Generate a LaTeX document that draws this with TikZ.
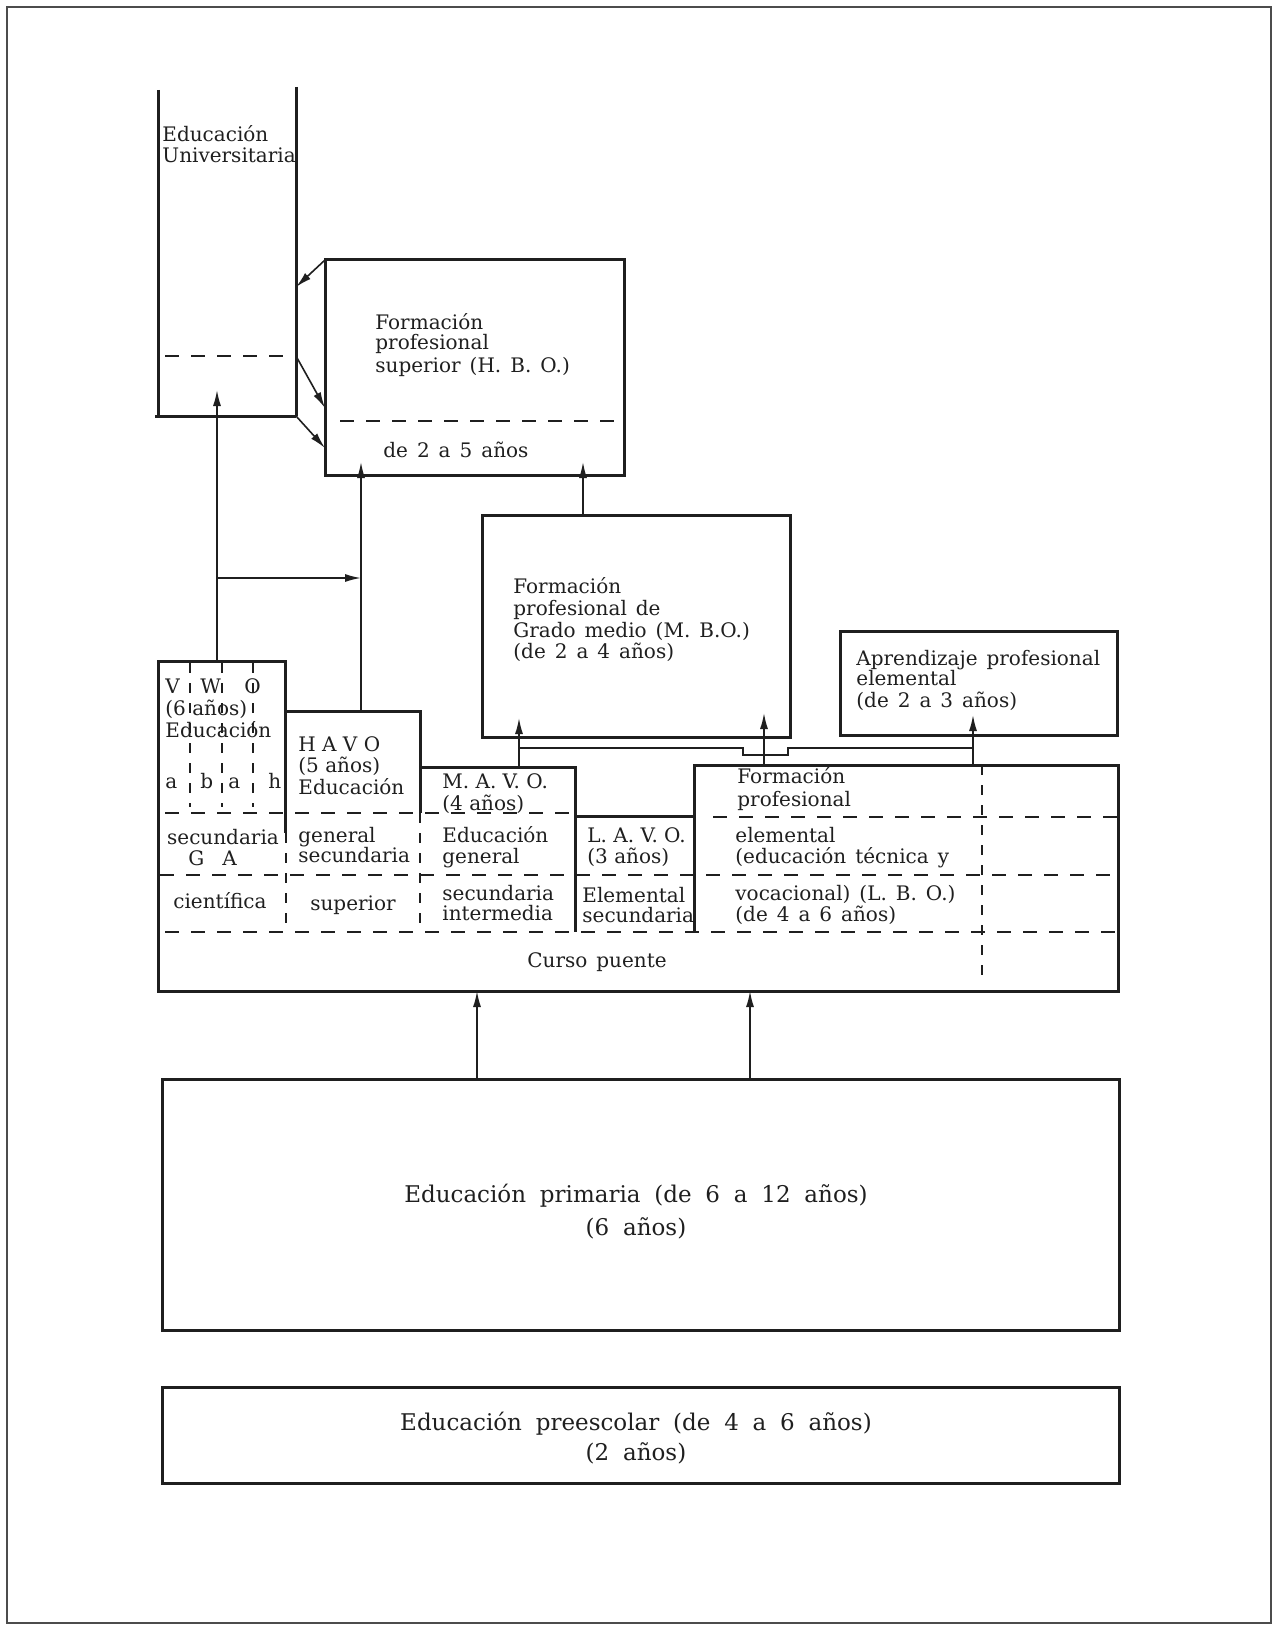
\documentclass[tikz,border=0pt]{standalone}
\usepackage{fontspec}
\setmainfont{DejaVu Serif}
\usetikzlibrary{arrows.meta}
\definecolor{ink}{gray}{0.12}
\definecolor{framec}{gray}{0.3}
\newcommand\myboxfont{\fontsize{10}{12}\selectfont\spaceskip=0.45em\relax}
\newcommand\mytightfont{\fontsize{10}{12}\selectfont}
\newcommand\mybigfont{\fontsize{11.5}{14}\selectfont\spaceskip=0.6em\relax}
\begin{document}
\begin{tikzpicture}[x=0.5pt,y=-0.5pt,
  txt/.style={anchor=base west,inner sep=0pt,text=ink,font=\myboxfont},
  txtc/.style={txt,anchor=base},
  tight/.style={txt,font=\mytightfont},
  big/.style={anchor=base,inner sep=0pt,text=ink,font=\mybigfont},
  box/.style={draw=ink,line width=1.5pt,line join=miter},
  conn/.style={draw=ink,line width=0.8pt},
  arr/.style={conn,-{Latex[length=8pt,width=4pt]}},
  dsh/.style={draw=ink,line width=0.7pt,dash pattern=on 7pt off 6pt},
  vdsh/.style={draw=ink,line width=0.7pt,dash pattern=on 5pt off 5pt}
]
\useasboundingbox (0,0) rectangle (1276,1626);
\draw[framec,line width=1.2pt] (7,7) rectangle (1271,1623);

% ---------- Educacion Universitaria ----------
\draw[box] (158,90) -- (158,416);
\draw[box] (296,87) -- (296,416);
\draw[box] (155,416) -- (296,416);
\draw[dsh] (165,356) -- (296,356);
\node[txt] (univ1) at (162,142) {Educación};
\node[txt] (univ2) at (162,163) {Universitaria};

% ---------- HBO ----------
\draw[box] (325,260) rectangle (624,475);
\draw[dsh] (340,421) -- (618,421);
\node[txt] (hbo1) at (375,329) {Formación};
\node[txt] (hbo2) at (375,350) {profesional};
\node[txt] (hbo3) at (375,372) {superior (H. B. O.)};
\node[txt] (hbo4) at (383,457) {de 2 a 5 años};

% ---------- MBO ----------
\draw[box] (482,515) rectangle (790,737);
\node[txt] (mbo1) at (513,593) {Formación};
\node[txt] (mbo2) at (513,615) {profesional de};
\node[txt] (mbo3) at (513,637) {Grado medio (M. B.O.)};
\node[txt] (mbo4) at (513,658) {(de 2 a 4 años)};

% ---------- Aprendizaje ----------
\draw[box] (840,631) rectangle (1117,735);
\node[txt] (apr1) at (856,665) {Aprendizaje profesional};
\node[txt] (apr2) at (856,685) {elemental};
\node[txt] (apr3) at (856,707) {(de 2 a 3 años)};

% ---------- lower block ----------
\draw[box] (694,932) -- (694,765) -- (1118,765) -- (1118,991) -- (158,991) -- (158,661) -- (285,661) -- (285,833);
\draw[box] (285,711) -- (420,711) -- (420,813);
\draw[box] (420,767) -- (575,767) -- (575,932);
\draw[box] (575,816) -- (694,816);

\draw[dsh] (165,813) -- (575,813);
\draw[dsh] (160,875) -- (1118,875);
\draw[dsh] (165,932) -- (1118,932);
\draw[dsh] (713,817) -- (1118,817);
\draw[vdsh] (286,833) -- (286,932);
\draw[vdsh] (420,813) -- (420,932);
\draw[vdsh] (982,765) -- (982,980);
\draw[vdsh] (190,663) -- (190,807);
\draw[vdsh] (222,663) -- (222,807);
\draw[vdsh] (253,663) -- (253,807);

% VWO
\node[txt] (vV) at (165,693) {V};
\node[txt] (vW) at (200,693) {W};
\node[txt] (vO) at (244,693) {O};
\node[tight] (v2) at (165,715) {(6 años)};
\node[txt] (v3) at (165,737) {Educación};
\node[txt] (va1) at (165,788) {a};
\node[txt] (vb) at (200,788) {b};
\node[txt] (va2) at (228,788) {a};
\node[txt] (vh) at (268,788) {h};
\node[txtc] (v4) at (223,844) {secundaria};
\node[txt] (vG) at (188,865) {G};
\node[txt] (vA) at (222,865) {A};
\node[txtc] (v5) at (220,908) {científica};

% HAVO
\node[tight] (h1) at (298,751) {H A V O};
\node[tight] (h2) at (298,772) {(5 años)};
\node[txt] (h3) at (298,794) {Educación};
\node[txt] (h4) at (298,842) {general};
\node[txt] (h5) at (298,862) {secundaria};
\node[txtc] (h6) at (353,910) {superior};

% MAVO
\node[tight] (m1) at (442,788) {M. A. V. O.};
\node[tight] (m2) at (442,810) {(4 años)};
\node[txt] (m3) at (442,842) {Educación};
\node[txt] (m4) at (442,863) {general};
\node[txt] (m5) at (442,900) {secundaria};
\node[txt] (m6) at (442,920) {intermedia};

% LAVO
\node[tight] (l1) at (587,842) {L. A. V. O.};
\node[tight] (l2) at (587,863) {(3 años)};
\node[txt] (l3) at (582,902) {Elemental};
\node[txt] (l4) at (582,922) {secundaria};

% Formacion profesional elemental
\node[txt] (f1) at (737,783) {Formación};
\node[txt] (f2) at (737,806) {profesional};
\node[txt] (f3) at (735,842) {elemental};
\node[txt] (f4) at (735,863) {(educación técnica y};
\node[txt] (f5) at (735,900) {vocacional) (L. B. O.)};
\node[txt] (f6) at (735,921) {(de 4 a 6 años)};

\node[txtc] (curso) at (597,967) {Curso puente};

% ---------- primary / preschool ----------
\draw[box] (162,1079) rectangle (1119,1330);
\node[big] (p1) at (636,1202) {Educación primaria (de 6 a 12 años)};
\node[big] (p2) at (636,1235) {(6 años)};
\draw[box] (162,1387) rectangle (1119,1483);
\node[big] (q1) at (636,1430) {Educación preescolar (de 4 a 6 años)};
\node[big] (q2) at (636,1460) {(2 años)};

% ---------- connector end points ----------
\coordinate (vwoTop) at (217,661);   \coordinate (univIn) at (217,390);
\coordinate (hj) at (217,578);       \coordinate (havoLine) at (361,578);
\coordinate (havoTop) at (361,711);  \coordinate (hboIn1) at (361,462);
\coordinate (mboTop) at (583,515);   \coordinate (hboIn2) at (583,462);
\coordinate (mavoTop) at (519,767);  \coordinate (mboIn1) at (519,718);
\coordinate (fpTop1) at (764,765);   \coordinate (mboIn2) at (764,713);
\coordinate (fpTop2) at (973,765);   \coordinate (aprIn) at (973,715);
\coordinate (jl) at (519,748);       \coordinate (jr) at (973,748);
\coordinate (n1) at (743,748);       \coordinate (n2) at (743,755);
\coordinate (n3) at (788,755);       \coordinate (n4) at (788,748);
\coordinate (primTop1) at (477,1079); \coordinate (mainBot1) at (477,991);
\coordinate (primTop2) at (750,1079); \coordinate (mainBot2) at (750,991);
\coordinate (hboTL) at (325,260);    \coordinate (univR1) at (296,287);
\coordinate (univR2) at (296,356);   \coordinate (hboL1) at (325,408);
\coordinate (univR3) at (296,416);   \coordinate (hboL2) at (325,448);

% ---------- connectors ----------
\draw[arr] (vwoTop) -- (univIn);
\draw[arr] (hj) -- (havoLine);
\draw[arr] (havoTop) -- (hboIn1);
\draw[arr] (mboTop) -- (hboIn2);
\draw[arr] (mavoTop) -- (mboIn1);
\draw[arr] (fpTop1) -- (mboIn2);
\draw[arr] (fpTop2) -- (aprIn);
\draw[conn] (jl) -- (n1) -- (n2) -- (n3) -- (n4) -- (jr);
\draw[arr] (primTop1) -- (mainBot1);
\draw[arr] (primTop2) -- (mainBot2);
\draw[arr] (hboTL) -- (univR1);
\draw[arr] (univR2) -- (hboL1);
\draw[arr] (univR3) -- (hboL2);
\end{tikzpicture}
\end{document}
